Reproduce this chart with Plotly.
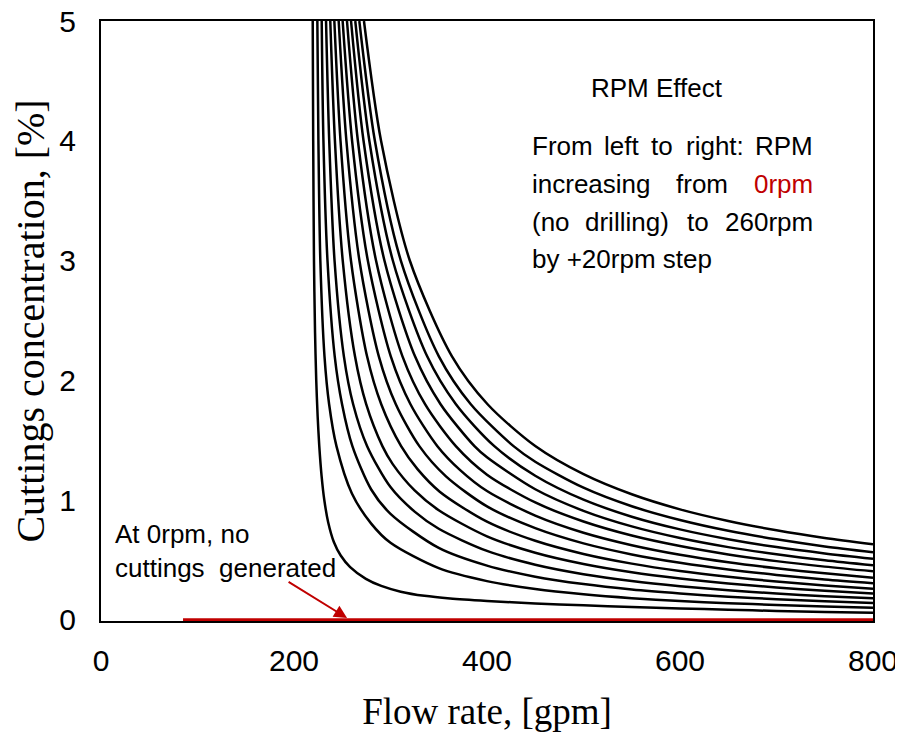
import plotly.graph_objects as go

# Flow rate [gpm] / cuttings concentration [%], one curve per RPM
q_rpm20 = [219.4, 219.9, 220.7, 221.8, 223.05, 224.5, 226.2, 228.6, 231.4, 235.4, 241.3, 248.4, 258.2, 274.5,
           290.4, 310.6, 335.2, 361.8, 400, 450, 500, 550, 600, 650, 700, 750, 800]
c_rpm20 = [5, 4, 3, 2.4, 2.0, 1.7, 1.45, 1.2, 1.0, 0.815, 0.65, 0.537, 0.44, 0.342,
           0.283, 0.235, 0.2, 0.178, 0.158, 0.137, 0.121, 0.107, 0.095, 0.084, 0.074, 0.066, 0.058]

q_rpm40 = [224.2, 225.3, 227.3, 231.6, 236.4, 244.0, 260, 280, 300, 350, 400, 450, 500, 550, 600, 650, 700, 750, 800]
c_rpm40 = [5, 4, 3, 2.2, 1.8, 1.45, 1.055, 0.803, 0.643, 0.431, 0.323, 0.257, 0.213, 0.181, 0.157, 0.139, 0.124, 0.112, 0.101]

q_rpm60 = [228.7, 230.5, 234.7, 242.2, 249.8, 260.5, 280, 300, 350, 400, 450, 500, 550, 600, 650, 700, 750, 800]
c_rpm60 = [5, 4, 3, 2.2, 1.8, 1.45, 1.088, 0.885, 0.60, 0.452, 0.36, 0.298, 0.253, 0.22, 0.193, 0.172, 0.155, 0.14]

q_rpm80 = [233.2, 236.5, 242.0, 251.7, 261.3, 275.8, 300, 325, 350, 400, 450, 500, 550, 600, 650, 700, 750, 800]
c_rpm80 = [5, 4, 3, 2.2, 1.8, 1.45, 1.108, 0.903, 0.76, 0.575, 0.46, 0.381, 0.324, 0.281, 0.247, 0.22, 0.197, 0.179]

q_rpm100 = [237.6, 242.4, 250.5, 263.2, 274.8, 291.6, 302.3, 325, 350, 400, 450, 500, 550, 600, 650, 700, 750, 800]
c_rpm100 = [5, 4, 3, 2.2, 1.8, 1.45, 1.3, 1.08, 0.915, 0.697, 0.56, 0.466, 0.397, 0.345, 0.303, 0.27, 0.243, 0.22]

q_rpm120 = [241.8, 248.2, 259.0, 275.7, 290.4, 311.0, 328.0, 351.0, 400, 450, 500, 550, 600, 650, 700, 750, 800]
c_rpm120 = [5, 4, 3, 2.2, 1.8, 1.45, 1.258, 1.07, 0.819, 0.66, 0.55, 0.469, 0.407, 0.359, 0.32, 0.287, 0.26]

q_rpm140 = [246.3, 254.3, 267.8, 287.9, 305.5, 329.9, 357.2, 400, 450, 500, 550, 600, 650, 700, 750, 800]
c_rpm140 = [5, 4, 3, 2.2, 1.8, 1.45, 1.2, 0.947, 0.765, 0.638, 0.546, 0.476, 0.42, 0.375, 0.337, 0.306]

q_rpm160 = [250.4, 260.2, 276.5, 300.3, 320.7, 348.6, 372.2, 400, 450, 500, 550, 600, 650, 700, 750, 800]
c_rpm160 = [5, 4, 3, 2.2, 1.8, 1.45, 1.25, 1.075, 0.87, 0.727, 0.623, 0.543, 0.48, 0.43, 0.388, 0.352]

q_rpm180 = [254.9, 266.2, 285.0, 312.4, 335.8, 367.7, 400, 450, 500, 550, 600, 650, 700, 750, 800]
c_rpm180 = [5, 4, 3, 2.2, 1.8, 1.45, 1.212, 0.98, 0.821, 0.704, 0.616, 0.546, 0.49, 0.444, 0.405]

q_rpm200 = [259.1, 272.05, 293.7, 325.4, 351.9, 387.0, 400, 450, 500, 550, 600, 650, 700, 750, 800]
c_rpm200 = [5, 4, 3, 2.2, 1.8, 1.45, 1.357, 1.09, 0.91, 0.78, 0.683, 0.607, 0.547, 0.497, 0.455]

q_rpm220 = [263.5, 278.05, 302.4, 338.0, 367.8, 407.6, 450, 500, 550, 600, 650, 700, 750, 800]
c_rpm220 = [5, 4, 3, 2.2, 1.8, 1.45, 1.203, 1.003, 0.861, 0.755, 0.673, 0.607, 0.554, 0.509]

q_rpm240 = [267.7, 283.8, 310.7, 350.1, 383.2, 427.5, 450, 500, 550, 600, 650, 700, 750, 800]
c_rpm240 = [5, 4, 3, 2.2, 1.8, 1.45, 1.32, 1.103, 0.948, 0.833, 0.743, 0.672, 0.613, 0.565]

q_rpm260 = [272.5, 290.2, 320.0, 363.7, 400.6, 450, 500, 550, 600, 650, 700, 750, 800]
c_rpm260 = [5, 4, 3, 2.2, 1.8, 1.451, 1.216, 1.048, 0.922, 0.825, 0.747, 0.683, 0.63]

# 0 rpm: no cuttings generated
q_rpm0 = [85, 800]
c_rpm0 = [0, 0]

curves = [(q_rpm20, c_rpm20), (q_rpm40, c_rpm40), (q_rpm60, c_rpm60), (q_rpm80, c_rpm80),
          (q_rpm100, c_rpm100), (q_rpm120, c_rpm120), (q_rpm140, c_rpm140), (q_rpm160, c_rpm160),
          (q_rpm180, c_rpm180), (q_rpm200, c_rpm200), (q_rpm220, c_rpm220), (q_rpm240, c_rpm240),
          (q_rpm260, c_rpm260)]

RED = '#C00000'
SANS = 'Liberation Sans, Arial, sans-serif'
SERIF = 'Liberation Serif, Times New Roman, serif'

fig = go.Figure()
for q, c in curves:
    fig.add_trace(go.Scatter(x=q, y=c, mode='lines', line=dict(color='black', width=2.5, shape='spline', smoothing=0.8),
                             showlegend=False, hoverinfo='skip'))
fig.add_trace(go.Scatter(x=q_rpm0, y=c_rpm0, mode='lines', line=dict(color=RED, width=3),
                         showlegend=False, hoverinfo='skip'))

# justified text block, one word at a time
notes = [
    ('RPM Effect', 576, 4.44, 'center', 'black'),
    ('From', 444.6, 3.957, 'left', 'black'),
    ('left', 539.0, 3.957, 'center', 'black'),
    ('to', 581.8, 3.957, 'center', 'black'),
    ('right:', 636.6, 3.957, 'center', 'black'),
    ('RPM', 739.9, 3.957, 'right', 'black'),
    ('increasing', 444.6, 3.64, 'left', 'black'),
    ('from', 622.9, 3.64, 'center', 'black'),
    ('0rpm', 739.9, 3.64, 'right', RED),
    ('(no', 444.6, 3.322, 'left', 'black'),
    ('drilling)', 545.5, 3.322, 'center', 'black'),
    ('to', 618.8, 3.322, 'center', 'black'),
    ('260rpm', 739.9, 3.322, 'right', 'black'),
    ('by +20rpm step', 444.6, 3.013, 'left', 'black'),
    ('At 0rpm, no', 12.4, 0.72, 'left', 'black'),
    ('cuttings&nbsp;&nbsp;generated', 12.4, 0.43, 'left', 'black'),
]
for t, x, y, anchor, col in notes:
    fig.add_annotation(x=x, y=y, text=t, showarrow=False, xanchor=anchor, yanchor='middle',
                       font=dict(family=SANS, size=26, color=col))

# red arrow pointing at the 0 rpm line
fig.add_annotation(x=255, y=0.015, ax=-60, ay=-37, text='', showarrow=True, arrowhead=2,
                   arrowsize=1.3, arrowwidth=2, arrowcolor=RED)

# the page body adds an 8px offset, so the figure is 8px smaller and margins shifted
fig.update_layout(
    width=895, height=724,
    margin=dict(l=93, r=30, t=13, b=111),
    plot_bgcolor='white', paper_bgcolor='white',
    xaxis=dict(range=[0, 800], tickvals=[0, 200, 400, 600, 800], showgrid=False, zeroline=False,
               showline=True, mirror=True, linecolor='black', linewidth=2, layer='below traces',
               ticks='outside', ticklen=12, tickcolor='rgba(0,0,0,0)', automargin=False,
               ticklabeloverflow='allow',
               tickfont=dict(family=SANS, size=30, color='black'),
               title=dict(text='Flow rate, [gpm]', font=dict(family=SERIF, size=37, color='black'), standoff=23)),
    yaxis=dict(range=[-0.01, 5], tickvals=[0, 1, 2, 3, 4, 5], showgrid=False, zeroline=False,
               showline=True, mirror=True, linecolor='black', linewidth=2, layer='below traces',
               ticks='outside', ticklen=17, tickcolor='rgba(0,0,0,0)', automargin=False,
               ticklabeloverflow='allow',
               tickfont=dict(family=SANS, size=30, color='black'),
               title=dict(text='Cuttings concentration, [%]', font=dict(family=SERIF, size=40, color='black'),
                          standoff=7)),
)

fig.write_html('out.html')
